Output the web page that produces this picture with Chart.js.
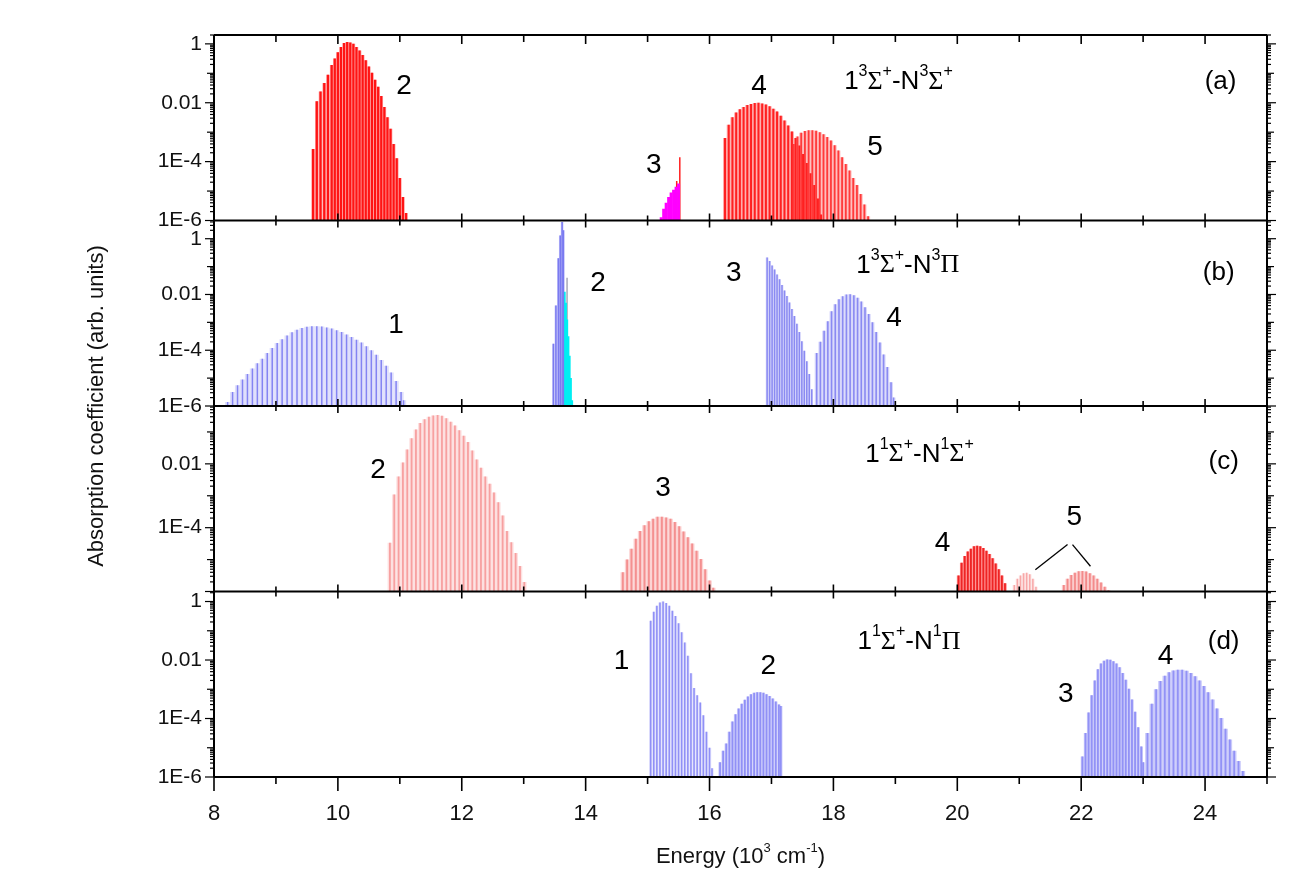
<!DOCTYPE html>
<html>
<head>
<meta charset="utf-8">
<title>Absorption spectra</title>
<script src="https://cdn.jsdelivr.net/npm/chart.js@4.4.1/dist/chart.umd.min.js"></script>
<style>
  html, body { margin: 0; padding: 0; background: #fff; }
  #chart { display: block; }
</style>
</head>
<body>
<canvas id="chart" width="1305" height="895"></canvas>
<script>
// ===========================
// DATA (energies in 10^3 cm^-1, intensities in arb. units)
// ===========================

// panel (a) 1^3Σ+ - N^3Σ+
const a2E = [9.60, 9.66, 9.72, 9.78, 9.84, 9.90, 9.95, 10.00, 10.05, 10.10, 10.15, 10.20, 10.25, 10.30, 10.35, 10.40, 10.45, 10.50, 10.55, 10.60, 10.65, 10.70, 10.75, 10.80, 10.85, 10.90, 10.95, 11.00, 11.05, 11.10];
const a2I = [2.7e-4, 0.0112, 0.024, 0.047, 0.089, 0.19, 0.32, 0.52, 0.79, 1.07, 1.15, 1.12, 1.0, 0.79, 0.60, 0.42, 0.28, 0.17, 0.105, 0.060, 0.035, 0.017, 0.0071, 0.0032, 0.0013, 4.0e-4, 1.3e-4, 2.8e-5, 6.3e-6, 1.8e-6];
const a3E = [15.22, 15.26, 15.30, 15.34, 15.38, 15.42, 15.46, 15.50];
const a3I = [1.3e-6, 2.5e-6, 4.0e-6, 6.3e-6, 9.0e-6, 1.1e-5, 1.4e-5, 1.8e-5];
const a3SpikeE = [15.47, 15.52];
const a3SpikeI = [2.2e-5, 1.4e-4];
const a4E = [16.25, 16.31, 16.37, 16.43, 16.49, 16.55, 16.61, 16.67, 16.73, 16.79, 16.85, 16.91, 16.97, 17.03, 17.09, 17.15, 17.21, 17.27, 17.33, 17.39, 17.45, 17.51, 17.57, 17.63, 17.69, 17.75, 17.80];
const a4I = [6.3e-4, 1.8e-3, 3.2e-3, 4.7e-3, 6.0e-3, 7.2e-3, 8.3e-3, 9.1e-3, 9.8e-3, 0.010, 9.5e-3, 8.7e-3, 7.6e-3, 6.3e-3, 5.0e-3, 3.6e-3, 2.5e-3, 1.7e-3, 1.05e-3, 6.3e-4, 3.5e-4, 1.8e-4, 8.9e-5, 4.0e-5, 1.6e-5, 5.6e-6, 1.6e-6];
const a5E = [17.36, 17.42, 17.48, 17.54, 17.60, 17.66, 17.72, 17.78, 17.84, 17.90, 17.96, 18.02, 18.08, 18.14, 18.20, 18.26, 18.32, 18.38, 18.44, 18.50, 18.56];
const a5I = [4.0e-4, 7.1e-4, 9.5e-4, 1.1e-3, 1.17e-3, 1.17e-3, 1.12e-3, 1.0e-3, 8.5e-4, 6.9e-4, 5.2e-4, 3.6e-4, 2.4e-4, 1.4e-4, 8.3e-5, 5.0e-5, 2.8e-5, 1.6e-5, 7.9e-6, 3.5e-6, 1.4e-6];

// panel (b) 1^3Σ+ - N^3Π
const b1E = [8.22, 8.30, 8.38, 8.46, 8.54, 8.62, 8.70, 8.78, 8.86, 8.94, 9.02, 9.10, 9.18, 9.26, 9.34, 9.42, 9.50, 9.58, 9.66, 9.74, 9.82, 9.90, 9.98, 10.06, 10.14, 10.22, 10.30, 10.38, 10.46, 10.54, 10.62, 10.70, 10.78, 10.86, 10.94, 11.02, 11.06];
const b1I = [1.4e-6, 3.2e-6, 5.6e-6, 8.9e-6, 1.4e-5, 2.2e-5, 3.4e-5, 5.0e-5, 7.9e-5, 1.2e-4, 1.8e-4, 2.5e-4, 3.4e-4, 4.4e-4, 5.4e-4, 6.3e-4, 6.9e-4, 7.2e-4, 7.2e-4, 7.1e-4, 6.6e-4, 6.0e-4, 5.2e-4, 4.5e-4, 3.7e-4, 3.0e-4, 2.4e-4, 1.9e-4, 1.4e-4, 1.0e-4, 6.9e-5, 4.5e-5, 2.8e-5, 1.6e-5, 7.9e-6, 3.2e-6, 1.6e-6];
const b2E = [13.48, 13.52, 13.56, 13.59, 13.62, 13.64];
const b2I = [1.7e-4, 4.0e-3, 0.2, 1.3, 4.0, 2.0];
const b2GrayE = [13.70];
const b2GrayI = [0.04];
const b2CyanE = [13.66, 13.68, 13.70, 13.72, 13.74, 13.76, 13.78];
const b2CyanI = [0.0126, 5.0e-3, 1.26e-3, 3.2e-4, 6.3e-5, 1.0e-5, 1.6e-6];
const b3E = [16.93, 16.97, 17.01, 17.05, 17.09, 17.13, 17.17, 17.21, 17.25, 17.29, 17.33, 17.37, 17.41, 17.45, 17.49, 17.53, 17.57, 17.61, 17.65];
const b3I = [0.21, 0.16, 0.11, 0.079, 0.052, 0.035, 0.022, 0.014, 8.9e-3, 5.2e-3, 3.0e-3, 1.7e-3, 8.9e-4, 4.5e-4, 2.1e-4, 9.5e-5, 4.0e-5, 1.4e-5, 4.0e-6];
const b4E = [17.73, 17.79, 17.85, 17.91, 17.97, 18.03, 18.09, 18.15, 18.21, 18.27, 18.33, 18.39, 18.45, 18.51, 18.57, 18.63, 18.69, 18.75, 18.81, 18.87, 18.93, 18.97];
const b4I = [7.9e-5, 2.0e-4, 5.0e-4, 1.1e-3, 2.5e-3, 4.5e-3, 6.8e-3, 8.7e-3, 0.010, 0.0102, 9.3e-3, 7.6e-3, 5.6e-3, 3.5e-3, 2.0e-3, 1.0e-3, 4.5e-4, 1.9e-4, 7.1e-5, 2.5e-5, 7.1e-6, 2.0e-6];

// panel (c) 1^1Σ+ - N^1Σ+
const c2E = [10.84, 10.91, 10.98, 11.05, 11.12, 11.19, 11.26, 11.33, 11.40, 11.47, 11.54, 11.61, 11.68, 11.75, 11.82, 11.89, 11.96, 12.03, 12.10, 12.17, 12.24, 12.31, 12.38, 12.45, 12.52, 12.59, 12.66, 12.73, 12.80, 12.87, 12.94, 13.01];
const c2I = [3.4e-5, 1.1e-3, 4.0e-3, 0.011, 0.028, 0.063, 0.12, 0.19, 0.25, 0.30, 0.33, 0.34, 0.32, 0.27, 0.21, 0.158, 0.112, 0.076, 0.048, 0.026, 0.0138, 7.6e-3, 4.0e-3, 2.4e-3, 1.26e-3, 6.3e-4, 2.4e-4, 7.9e-5, 3.5e-5, 1.6e-5, 6.3e-6, 2.0e-6];
const c3E = [14.60, 14.67, 14.74, 14.81, 14.88, 14.95, 15.02, 15.09, 15.16, 15.23, 15.30, 15.37, 15.44, 15.51, 15.58, 15.65, 15.72, 15.79, 15.86, 15.93, 16.00, 16.06];
const c3I = [4.0e-6, 1.0e-5, 2.2e-5, 4.5e-5, 7.9e-5, 1.2e-4, 1.6e-4, 1.9e-4, 2.2e-4, 2.2e-4, 2.1e-4, 1.9e-4, 1.5e-4, 1.1e-4, 7.6e-5, 5.0e-5, 3.2e-5, 1.9e-5, 1.05e-5, 5.0e-6, 2.2e-6, 1.3e-6];
const c4E = [20.02, 20.07, 20.12, 20.17, 20.22, 20.27, 20.32, 20.37, 20.42, 20.47, 20.52, 20.57, 20.62, 20.67, 20.72, 20.77];
const c4I = [3.2e-6, 7.9e-6, 1.3e-5, 1.8e-5, 2.2e-5, 2.6e-5, 2.7e-5, 2.6e-5, 2.3e-5, 1.9e-5, 1.5e-5, 1.1e-5, 7.6e-6, 5.0e-6, 3.2e-6, 1.8e-6];
const c5aE = [20.92, 20.97, 21.02, 21.07, 21.12, 21.17, 21.22, 21.27];
const c5aI = [1.6e-6, 2.5e-6, 3.2e-6, 3.7e-6, 3.9e-6, 3.5e-6, 2.5e-6, 1.4e-6];
const c5bE = [21.72, 21.78, 21.84, 21.90, 21.96, 22.02, 22.08, 22.14, 22.20, 22.26, 22.32, 22.38, 22.44];
const c5bI = [1.6e-6, 2.5e-6, 3.3e-6, 3.9e-6, 4.3e-6, 4.4e-6, 4.2e-6, 3.7e-6, 3.2e-6, 2.5e-6, 1.9e-6, 1.4e-6, 1.1e-6];

// panel (d) 1^1Σ+ - N^1Π
const d1E = [15.05, 15.10, 15.15, 15.20, 15.25, 15.30, 15.35, 15.40, 15.45, 15.50, 15.55, 15.60, 15.65, 15.70, 15.75, 15.80, 15.85, 15.90, 15.95, 16.00, 16.04];
const d1I = [0.22, 0.45, 0.71, 0.93, 1.0, 0.89, 0.71, 0.48, 0.32, 0.18, 0.089, 0.04, 0.014, 3.5e-3, 1.1e-3, 6.3e-4, 3.5e-4, 1.3e-4, 3.5e-5, 1.0e-5, 2.0e-6];
const d2E = [16.17, 16.22, 16.27, 16.32, 16.37, 16.42, 16.47, 16.52, 16.57, 16.62, 16.67, 16.72, 16.77, 16.82, 16.87, 16.92, 16.97, 17.02, 17.07, 17.12, 17.15];
const d2I = [3.2e-6, 7.9e-6, 1.4e-5, 3.5e-5, 7.9e-5, 1.4e-4, 2.2e-4, 3.2e-4, 4.4e-4, 5.6e-4, 6.8e-4, 7.6e-4, 7.9e-4, 7.9e-4, 7.6e-4, 6.8e-4, 5.9e-4, 4.8e-4, 3.8e-4, 3.0e-4, 2.7e-4];
const d3E = [22.02, 22.07, 22.12, 22.17, 22.22, 22.27, 22.32, 22.37, 22.42, 22.47, 22.52, 22.57, 22.62, 22.67, 22.72, 22.77, 22.82, 22.87, 22.92, 22.97, 23.00];
const d3I = [5.0e-6, 3.2e-5, 1.6e-4, 6.3e-4, 2.0e-3, 4.8e-3, 7.6e-3, 9.5e-3, 0.0105, 0.0102, 9.1e-3, 7.6e-3, 5.6e-3, 3.6e-3, 2.1e-3, 1.05e-3, 4.5e-4, 1.7e-4, 5.0e-5, 1.1e-5, 3.2e-6];
const d4E = [23.07, 23.14, 23.21, 23.28, 23.35, 23.42, 23.49, 23.56, 23.63, 23.70, 23.77, 23.84, 23.91, 23.98, 24.05, 24.12, 24.19, 24.26, 24.33, 24.40, 24.47, 24.54, 24.61];
const d4I = [3.2e-5, 3.2e-4, 1.0e-3, 1.9e-3, 2.9e-3, 3.8e-3, 4.4e-3, 4.6e-3, 4.6e-3, 4.3e-3, 3.6e-3, 2.8e-3, 2.0e-3, 1.3e-3, 7.9e-4, 4.5e-4, 2.2e-4, 1.05e-4, 4.5e-5, 1.9e-5, 7.9e-6, 3.5e-6, 1.6e-6];

// axes
const xTickValues = [8, 10, 12, 14, 16, 18, 20, 22, 24];
const yTickValues = [1e-6, 1e-4, 1e-2, 1];
const yTickLabels = ['1E-6', '1E-4', '0.01', '1'];

// ===========================
// PANELS & LABELS
// ===========================
const FONT = '"Liberation Sans", Arial, sans-serif';
const SERIF = '"Liberation Serif", "Times New Roman", serif';
const panels = [
  { id: 'yA', min: 1e-6, max: 2.0, ticks: [1e-6, 1e-4, 1e-2, 1] },
  { id: 'yB', min: 1e-6, max: 4.5, ticks: [1e-6, 1e-4, 1e-2, 1] },
  { id: 'yC', min: 1e-6, max: 0.65, ticks: [1e-4, 1e-2] },
  { id: 'yD', min: 1e-6, max: 2.2, ticks: [1e-6, 1e-4, 1e-2, 1] }
];

// '^' puts the next character in superscript
const notes = [
  { p: 'yA', x: 11.07, y: 0.035, t: '2' },
  { p: 'yA', x: 15.10, y: 7.6e-5, t: '3' },
  { p: 'yA', x: 16.80, y: 0.035, t: '4' },
  { p: 'yA', x: 18.67, y: 3.1e-4, t: '5' },
  { p: 'yA', x: 19.05, y: 0.051, t: '1^3Σ^+-N^3Σ^+', f: 26 },
  { p: 'yA', x: 24.25, y: 0.05, t: '(a)', f: 26 },
  { p: 'yB', x: 10.94, y: 7.6e-4, t: '1' },
  { p: 'yB', x: 14.20, y: 0.025, t: '2' },
  { p: 'yB', x: 16.39, y: 0.056, t: '3' },
  { p: 'yB', x: 19.20, y: 0.11, t: '1^3Σ^+-N^3Π', f: 26 },
  { p: 'yB', x: 18.98, y: 1.35e-3, t: '4' },
  { p: 'yB', x: 24.22, y: 0.06, t: '(b)', f: 26 },
  { p: 'yC', x: 10.65, y: 6.5e-3, t: '2' },
  { p: 'yC', x: 15.25, y: 1.66e-3, t: '3' },
  { p: 'yC', x: 19.39, y: 0.0195, t: '1^1Σ^+-N^1Σ^+', f: 26 },
  { p: 'yC', x: 24.30, y: 0.0115, t: '(c)', f: 26 },
  { p: 'yC', x: 19.76, y: 3.3e-5, t: '4' },
  { p: 'yC', x: 21.89, y: 2.1e-4, t: '5' },
  { p: 'yD', x: 14.58, y: 9.1e-3, t: '1' },
  { p: 'yD', x: 16.95, y: 5.9e-3, t: '2' },
  { p: 'yD', x: 19.22, y: 0.042, t: '1^1Σ^+-N^1Π', f: 26 },
  { p: 'yD', x: 21.75, y: 6.9e-4, t: '3' },
  { p: 'yD', x: 23.36, y: 0.0129, t: '4' },
  { p: 'yD', x: 24.30, y: 0.042, t: '(d)', f: 26 }
];
// leader lines for label 5 in panel (c)
const leaders = [
  { p: 'yC', from: [21.78, 2.95e-5], to: [21.26, 4.8e-6] },
  { p: 'yC', from: [21.86, 2.95e-5], to: [22.15, 6.2e-6] }
];

// ===========================
// DATASETS
// ===========================
const datasets = [];
const common = { type: 'bar', xAxisID: 'x', grouped: false, base: 1e-6, borderWidth: 0, inflateAmount: 0 };

// light envelope fill underneath, darker sticks on top (lower order draws on top)
function addBand(panel, xs, ys, fill, stick, fillW, stickW) {
  const pts = xs.map((x, i) => ({ x: x, y: ys[i] }));
  if (fill) datasets.push({ ...common, order: 1, yAxisID: panel, data: pts, backgroundColor: fill, barThickness: fillW });
  datasets.push({ ...common, order: 0, yAxisID: panel, data: pts, backgroundColor: stick, barThickness: stickW });
}

addBand('yA', a2E, a2I, '#ffa0a0', '#ff1414', 3.6, 2.2);
addBand('yA', a3E, a3I, null, '#ff00ff', 3, 3);
addBand('yA', a3SpikeE, a3SpikeI, null, '#ff2020', 1, 1.5);
addBand('yA', a4E, a4I, '#ffa8a8', '#ff2020', 4, 2);
addBand('yA', a5E, a5I, '#ffb8b8', '#ff3a3a', 4, 1.8);

addBand('yB', b1E, b1I, '#e0e0fc', '#8484f2', 5.2, 1.5);
addBand('yB', b2E, b2I, '#c8c8fa', '#7a7af0', 2.6, 1.5);
addBand('yB', b2CyanE, b2CyanI, null, '#00eef2', 2.2, 2.2);
addBand('yB', b2GrayE, b2GrayI, null, '#a8a8b8', 1, 1.5);
addBand('yB', b3E, b3I, '#d8d8fb', '#8a8af2', 2.8, 1.5);
addBand('yB', b4E, b4I, '#d8d8fb', '#8a8af2', 4, 1.6);

addBand('yC', c2E, c2I, '#fde0e0', '#f7a0a0', 4.6, 1.8);
addBand('yC', c3E, c3I, '#fcd4d4', '#f49090', 4.6, 2);
addBand('yC', c4E, c4I, '#ff8a8a', '#ee2424', 3.4, 1.8);
addBand('yC', c5aE, c5aI, '#fde6e6', '#f8a8a8', 3.4, 1.5);
addBand('yC', c5bE, c5bI, '#fbcccc', '#f38a8a', 4, 1.8);

addBand('yD', d1E, d1I, '#e4e4fd', '#9090f6', 3.4, 1.6);
addBand('yD', d2E, d2I, '#d0d0fb', '#9090f6', 3.4, 1.8);
addBand('yD', d3E, d3I, '#cacafa', '#9292f6', 3.4, 1.8);
addBand('yD', d4E, d4I, '#cacafa', '#9292f6', 4.6, 1.8);

// ===========================
// SCALES
// ===========================
function tickLabel(v) {
  const i = yTickValues.findIndex(t => Math.abs(Math.log10(t) - Math.log10(v)) < 1e-6);
  return i >= 0 ? yTickLabels[i] : '';
}

const scales = {
  x: {
    type: 'linear', position: 'bottom', min: 8, max: 25, offset: false,
    grid: { display: false, drawTicks: false },
    border: { display: false },
    ticks: { font: { family: FONT, size: 22 }, color: '#111', padding: 24, maxRotation: 0, autoSkip: false },
    afterBuildTicks: s => { s.ticks = xTickValues.map(v => ({ value: v })); },
    afterFit: s => { s.height = 118; }
  }
};
panels.forEach((p, k) => {
  scales[p.id] = {
    type: 'logarithmic', position: 'left', stack: 'panels', stackWeight: 1, weight: 4 - k,
    min: p.min, max: p.max,
    grid: { display: false, drawTicks: false },
    border: { display: false },
    ticks: { font: { family: FONT, size: 21 }, color: '#111', padding: 12, autoSkip: false, callback: v => tickLabel(v) },
    afterBuildTicks: s => { s.ticks = p.ticks.map(v => ({ value: v })); },
    afterFit: s => { s.width = 64; }
  };
});

// ===========================
// FRAME, TICKS AND TEXT
// ===========================
function drawRich(ctx, txt, cx, cy, size) {
  const parts = [];
  for (let i = 0; i < txt.length; i++) {
    if (txt[i] === '^') { parts.push({ t: txt[i + 1], sup: true }); i++; }
    else parts.push({ t: txt[i], sup: false });
  }
  const fontFor = p => {
    const s = p.sup ? Math.round(size * 0.6) : size;
    return s + 'px ' + (/[ΣΠ]/.test(p.t) ? SERIF : FONT);
  };
  let w = 0;
  parts.forEach(p => { ctx.font = fontFor(p); p.w = ctx.measureText(p.t).width; w += p.w; });
  let x = cx - w / 2;
  ctx.textAlign = 'left';
  ctx.textBaseline = 'middle';
  parts.forEach(p => {
    ctx.font = fontFor(p);
    ctx.fillText(p.t, x, p.sup ? cy - size * 0.38 : cy);
    x += p.w;
  });
}

const frame = {
  id: 'frame',
  afterDatasetsDraw(chart) {
    const { ctx, chartArea: ca, scales: sc } = chart;
    const xs = sc.x;
    const seg = (x1, y1, x2, y2) => { ctx.beginPath(); ctx.moveTo(x1, y1); ctx.lineTo(x2, y2); ctx.stroke(); };
    ctx.save();
    ctx.strokeStyle = '#000';
    ctx.fillStyle = '#111';

    // y ticks, left and right
    panels.forEach(p => {
      const ys = sc[p.id];
      ctx.lineWidth = 1.2;
      for (let e = -7; e <= 1; e++) {
        for (let m = 1; m <= 9; m++) {
          const v = m * Math.pow(10, e);
          if (v < p.min * 0.999 || v > p.max) continue;
          const py = ys.getPixelForValue(v);
          const len = m === 1 ? (e % 2 === 0 ? 9 : 7) : 4;
          seg(ca.left - len, py, ca.left, py);
          seg(ca.right, py, ca.right + len, py);
        }
      }
    });

    // panel borders
    const bounds = [sc.yA.top].concat(panels.map(p => sc[p.id].bottom));
    ctx.lineWidth = 2;
    bounds.forEach(by => seg(ca.left, by, ca.right, by));
    seg(ca.left, ca.top, ca.left, ca.bottom);
    seg(ca.right, ca.top, ca.right, ca.bottom);

    // x ticks on every panel edge
    ctx.lineWidth = 1.6;
    for (let v = 8; v <= 25; v++) {
      const px = xs.getPixelForValue(v);
      const major = v % 2 === 0;
      bounds.forEach((by, k) => {
        if (k === 0) seg(px, by, px, by + (major ? 9 : 7));
        else if (k === bounds.length - 1) seg(px, by, px, by + (major ? 14 : 7));
        else seg(px, by - (major ? 7 : 5), px, by + (major ? 7 : 5));
      });
    }

    // annotations
    ctx.fillStyle = '#000';
    notes.forEach(n => {
      const ys = sc[n.p];
      drawRich(ctx, n.t, xs.getPixelForValue(n.x), ys.getPixelForValue(n.y), n.f || 28);
    });
    ctx.lineWidth = 1.3;
    leaders.forEach(l => {
      const ys = sc[l.p];
      seg(xs.getPixelForValue(l.from[0]), ys.getPixelForValue(l.from[1]),
          xs.getPixelForValue(l.to[0]), ys.getPixelForValue(l.to[1]));
    });

    // axis titles
    ctx.fillStyle = '#111';
    drawRich(ctx, 'Energy (10^3 cm^-^1)', (ca.left + ca.right) / 2, 857, 22);
    ctx.translate(97, (ca.top + ca.bottom) / 2);
    ctx.rotate(-Math.PI / 2);
    drawRich(ctx, 'Absorption coefficient (arb. units)', 0, 0, 22);
    ctx.restore();
  }
};

new Chart(document.getElementById('chart').getContext('2d'), {
  type: 'bar',
  data: { datasets: datasets },
  options: {
    responsive: false,
    animation: false,
    devicePixelRatio: 1,
    events: [],
    layout: { padding: { left: 150, right: 38, top: 35, bottom: 0 } },
    plugins: { legend: { display: false }, tooltip: { enabled: false } },
    scales: scales
  },
  plugins: [frame]
});
</script>
</body>
</html>
